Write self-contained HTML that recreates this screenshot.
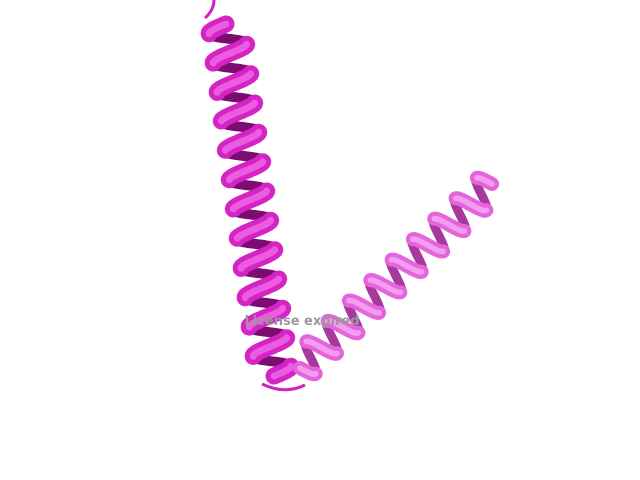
<!DOCTYPE html>
<html><head><meta charset="utf-8"><style>
html,body{margin:0;padding:0;background:#fff;width:640px;height:480px;overflow:hidden}
svg{display:block}
</style></head><body>
<svg id="s" width="640" height="480" viewBox="0 0 640 480">
<text x="302" y="325" text-anchor="middle" font-family="'DejaVu Sans','Liberation Sans',sans-serif" font-weight="bold" font-size="13" fill="#999">License expired</text>
</svg>
<script>
const svg=document.getElementById('s');
const NS='http://www.w3.org/2000/svg';
function helix(name,x0,y0,x1,y1,turns,amp,front,back,hi,fw,bw){
  const g=document.createElementNS(NS,'g');
  
  
  const dx=x1-x0,dy=y1-y0,L=Math.hypot(dx,dy),ux=dx/L,uy=dy/L,px=-uy,py=ux;
  const N=turns*40;
  const pts=[];
  for(let i=0;i<=N;i++){const t=i/N,ph=t*turns*2*Math.PI;
    pts.push([x0+dx*t+px*amp*Math.sin(ph), y0+dy*t+py*amp*Math.sin(ph), Math.cos(ph)]);}
  const layers=[[false,back,bw],[true,front,fw],[true,hi,fw*0.4]];
  layers.forEach(([isFront,col,w])=>{
    let seg=[];
    const flush=()=>{if(seg.length>1){const p=document.createElementNS(NS,'polyline');
      p.setAttribute('points',seg.map(q=>q[0].toFixed(1)+','+q[1].toFixed(1)).join(' '));
      p.setAttribute('fill','none');p.setAttribute('stroke',col);p.setAttribute('stroke-width',w);
      p.setAttribute('stroke-linecap','round');g.appendChild(p);}seg=[];};
    pts.forEach(q=>{if((q[2]>0)===isFront)seg.push(q);else flush();});flush();
  });
  svg.insertBefore(g,svg.firstChild);
}
helix('helix-right',300,368,492,184,9,15,'#e464dc','#a8389e','#f49cf0',14,9);
helix('helix-left',226,24,274,376,12,18,'#d424c4','#7c0c70','#ec5ce0',17,10);
const t1=document.createElementNS(NS,'path');
t1.setAttribute('d','M205 18 Q214 10 214 0');t1.setAttribute('stroke','#d020c0');t1.setAttribute('stroke-width','3');t1.setAttribute('fill','none');


svg.appendChild(t1);
const t2=document.createElementNS(NS,'path');
t2.setAttribute('d','M262 384 Q285 395 305 385');t2.setAttribute('stroke','#d020c0');t2.setAttribute('stroke-width','3');t2.setAttribute('fill','none');


svg.appendChild(t2);
</script>
</body></html>
